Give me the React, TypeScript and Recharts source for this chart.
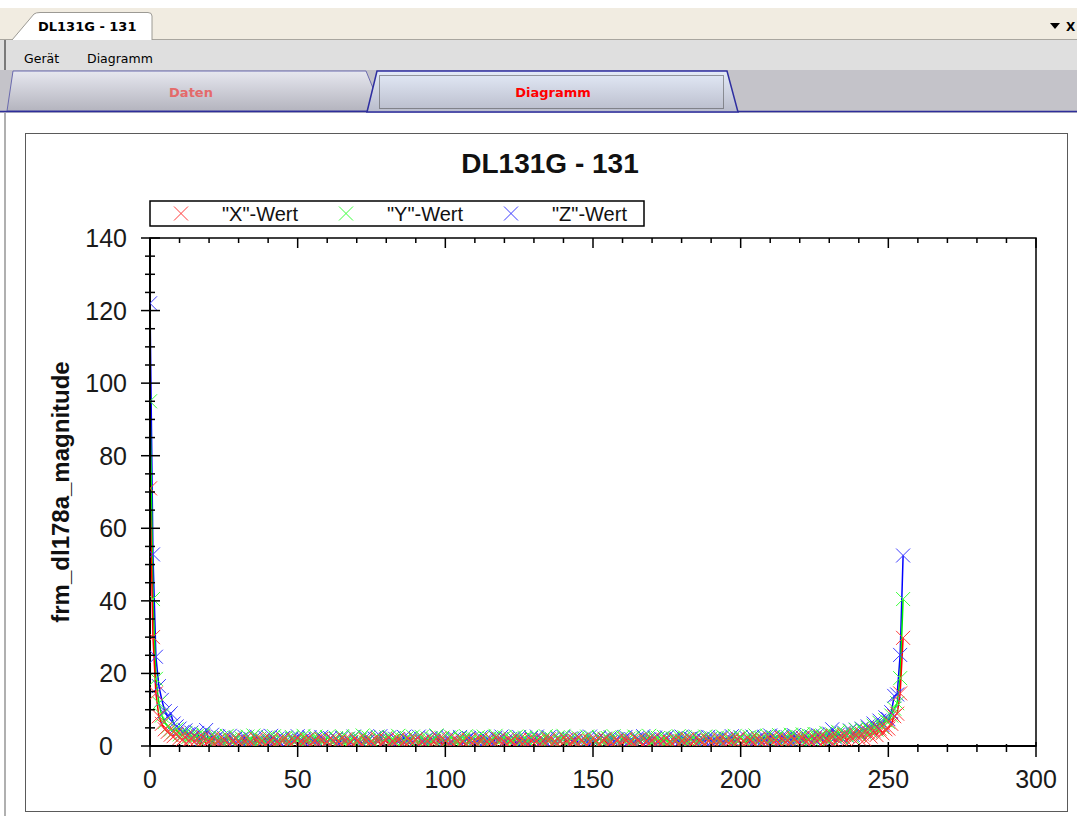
import React from "react";
import {
  LineChart,
  Line,
  XAxis,
  YAxis,
  ReferenceArea,
} from "recharts";

// FFT magnitudes, one value per sample index 0..255
const xWert = [
  71, 30, 14.5, 8.2, 6.1, 4.6, 3.9, 3.1, 2.7, 3.4, 2.2, 1.8, 2.5, 1.4, 1.9, 1.2,
  1.9, 0.3, 2.4, 0.6, 1.2, 2.0, 0.2, 1.5, 0.4, 1.8, 0.9, 0.2, 1.6, 0.5, 1.3, 0.1,
  1.7, 0.4, 1.1, 0.2, 1.9, 0.7, 1.4, 0.3, 1.0, 1.6, 0.2, 1.2, 0.6, 1.8, 0.3, 1.1,
  0.5, 1.5, 0.2, 1.3, 0.8, 1.7, 0.1, 1.0, 1.4, 0.4, 1.9, 0.6, 1.2, 0.2, 1.6, 0.7,
  1.3, 0.3, 1.8, 0.5, 1.1, 0.2, 1.5, 0.9, 0.3, 1.7, 0.6, 1.2, 0.2, 2.0, 0.4, 1.0,
  1.6, 0.2, 1.3, 0.7, 1.9, 0.4, 1.0, 0.3, 1.5, 0.8, 1.8, 0.2, 1.1, 0.6, 1.4, 0.3,
  1.2, 0.5, 2.1, 0.2, 1.4, 0.7, 1.0, 0.3, 1.7, 0.5, 1.3, 0.1, 1.6, 0.8, 1.1, 0.4,
  1.8, 0.3, 1.2, 0.6, 1.5, 0.2, 1.9, 0.7, 1.0, 0.4, 1.4, 0.9, 0.2, 1.7, 0.5, 1.2,
  0.3, 1.6, 0.8, 1.3, 0.2, 1.5, 0.6, 1.9, 0.4, 1.1, 0.7, 1.4, 0.2, 1.8, 0.5, 1.0,
  1.4, 0.3, 1.7, 0.9, 0.2, 1.3, 0.6, 1.6, 0.4, 1.2, 1.8, 0.3, 1.0, 0.5, 1.5, 0.8,
  0.4, 1.9, 0.7, 1.3, 0.2, 1.6, 1.0, 0.3, 1.4, 0.6, 1.8, 0.4, 1.1, 0.7, 1.5, 0.2,
  1.2, 0.6, 1.7, 0.3, 1.4, 0.8, 1.9, 0.2, 1.3, 0.5, 1.6, 0.9, 0.3, 1.5, 0.7, 1.1,
  0.4, 1.8, 0.6, 1.3, 0.9, 1.6, 0.3, 2.0, 0.7, 1.2, 0.5, 1.7, 1.0, 0.4, 1.9, 0.8,
  1.4, 0.5, 2.1, 0.9, 1.6, 0.6, 2.2, 1.0, 1.5, 0.7, 2.0, 1.2, 0.6, 2.3, 1.1, 1.7,
  0.8, 2.2, 1.3, 2.6, 0.9, 2.0, 1.5, 2.8, 1.1, 2.4, 1.7, 3.0, 1.4, 2.7, 2.0, 3.2,
  2.1, 3.4, 1.8, 3.9, 2.6, 4.3, 3.0, 4.8, 3.5, 4.6, 4.8, 6.1, 8.2, 8.9, 14.5, 29.8,
];

const yWert = [
  95, 40.5, 18.5, 11.8, 8.4, 6.6, 5.3, 4.5, 3.9, 4.6, 3.2, 2.9, 3.6, 2.5, 2.8, 2.2,
  2.9, 1.1, 3.3, 1.5, 2.4, 0.8, 2.7, 1.3, 2.2, 0.7, 2.8, 1.6, 0.9, 2.5, 1.2, 2.1,
  0.8, 2.6, 1.4, 2.9, 0.6, 2.0, 1.7, 0.9, 2.4, 1.1, 2.7, 0.5, 1.9, 1.3, 2.3, 0.7,
  2.5, 1.0, 2.1, 0.6, 2.8, 1.4, 1.9, 0.8, 2.6, 1.2, 2.0, 0.5, 2.4, 1.5, 0.9, 2.2,
  1.3, 2.7, 0.7, 2.0, 1.6, 2.5, 0.6, 1.8, 2.9, 1.0, 2.3, 1.4, 0.8, 2.6, 1.7, 1.1,
  2.4, 0.9, 2.0, 1.3, 2.8, 0.7, 1.6, 2.2, 1.1, 2.6, 1.5, 0.8, 2.5, 1.2, 2.1, 0.6,
  1.9, 2.9, 1.0, 2.3, 0.7, 1.8, 2.5, 1.3, 0.9, 2.2, 1.6, 2.7, 0.8, 2.0, 1.4, 2.4,
  1.1, 2.6, 0.6, 2.1, 1.5, 2.8, 1.0, 1.9, 2.4, 0.7, 2.0, 1.3, 2.6, 0.9, 1.7, 2.3,
  1.2, 2.5, 0.8, 2.2, 1.6, 0.6, 2.7, 1.4, 2.0, 0.9, 2.4, 1.1, 2.8, 0.7, 1.8, 2.1,
  1.0, 2.3, 1.5, 0.7, 2.6, 1.3, 2.1, 0.9, 2.5, 1.6, 0.8, 2.2, 1.2, 2.7, 1.4, 0.6,
  2.4, 1.1, 2.0, 0.8, 2.6, 1.5, 0.9, 2.3, 1.2, 2.8, 0.7, 1.9, 2.2, 1.0, 2.5, 1.3,
  0.8, 2.1, 1.6, 2.7, 1.0, 2.4, 0.7, 1.8, 2.5, 1.2, 2.0, 0.9, 2.6, 1.4, 2.2, 1.1,
  2.3, 1.0, 2.6, 1.5, 2.1, 0.9, 2.8, 1.3, 2.4, 1.7, 1.0, 2.5, 1.4, 2.9, 1.2, 2.2,
  1.6, 2.8, 1.2, 2.5, 1.9, 3.0, 1.3, 2.4, 1.8, 3.1, 1.5, 2.6, 2.0, 3.2, 1.4, 2.9,
  1.9, 3.3, 2.1, 2.8, 2.4, 3.6, 1.8, 3.2, 2.6, 3.9, 2.2, 3.4, 2.9, 4.1, 2.5, 4.4,
  3.1, 4.6, 3.6, 5.0, 4.0, 5.6, 4.5, 6.4, 5.2, 7.1, 6.6, 8.4, 10.3, 11.8, 18.7, 40.5,
];

const zWert = [
  122, 52.8, 24.6, 16.5, 12.7, 9.6, 8.1, 9.0, 6.2, 5.4, 4.8, 3.9, 4.3, 3.3, 3.7, 2.8,
  3.6, 1.5, 2.9, 4.4, 1.2, 3.1, 1.8, 2.6, 0.9, 2.3, 1.4, 2.8, 1.0, 2.1, 1.7, 0.8,
  2.5, 1.2, 2.0, 0.7, 2.6, 1.5, 1.0, 2.3, 0.6, 2.8, 1.3, 1.9, 0.8, 2.2, 1.4, 0.5,
  2.1, 1.1, 2.7, 0.9, 1.8, 0.4, 2.4, 1.3, 2.0, 0.7, 2.5, 1.6, 0.9, 2.2, 1.2, 1.9,
  0.6, 2.3, 1.4, 2.0, 0.8, 2.6, 1.1, 1.7, 0.5, 2.4, 1.5, 0.9, 2.1, 1.3, 2.7, 0.7,
  1.8, 2.4, 0.9, 2.0, 1.2, 0.6, 2.5, 1.4, 2.1, 0.8, 1.9, 2.6, 1.1, 1.6, 0.7, 2.2,
  1.3, 2.7, 0.8, 1.9, 1.5, 2.3, 0.6, 2.0, 1.1, 2.5, 0.9, 1.7, 2.2, 0.7, 1.8, 1.2,
  2.4, 0.9, 2.0, 1.4, 0.6, 2.3, 1.6, 2.6, 0.8, 1.9, 1.2, 2.1, 0.5, 2.5, 1.3, 1.8,
  0.9, 2.2, 1.5, 2.6, 0.7, 1.8, 1.1, 2.4, 1.6, 0.8, 2.0, 1.3, 2.5, 0.6, 1.9, 1.4,
  2.3, 0.7, 1.7, 2.1, 1.0, 2.6, 1.4, 0.8, 2.2, 1.5, 2.0, 0.9, 2.4, 1.2, 1.8, 0.6,
  1.6, 2.5, 1.1, 1.9, 0.7, 2.2, 1.3, 2.7, 0.9, 1.8, 1.5, 2.3, 0.8, 2.0, 1.2, 2.4,
  0.9, 1.7, 2.2, 1.0, 2.6, 1.4, 0.8, 2.1, 1.6, 2.4, 0.7, 1.9, 1.3, 2.5, 1.1, 2.0,
  1.5, 2.3, 0.9, 2.0, 1.7, 2.7, 1.1, 1.9, 2.4, 1.3, 2.2, 0.8, 2.6, 1.6, 2.1, 1.2,
  2.5, 1.4, 2.9, 1.7, 2.2, 1.0, 2.7, 1.9, 2.4, 1.5, 3.0, 1.8, 2.3, 1.3, 2.8, 2.0,
  2.6, 1.8, 3.1, 2.2, 2.7, 1.9, 3.4, 4.6, 2.3, 3.2, 2.5, 3.7, 2.8, 4.3, 3.0, 4.5,
  3.6, 4.8, 4.1, 5.4, 4.5, 6.2, 5.0, 7.0, 5.8, 7.9, 7.4, 9.3, 13.8, 14.2, 25.1, 52.5,
];

const seriesNames = ['"X"-Wert', '"Y"-Wert', '"Z"-Wert'];
const seriesColors = ["#ff0000", "#00ee00", "#0000ff"];
const markerColors = ["#ff3c3c", "#3cff3c", "#3c3cff"];

const xTicks = [0, 10, 20, 30, 40, 50, 60, 70, 80, 90, 100, 110, 120, 130, 140, 150,
  160, 170, 180, 190, 200, 210, 220, 230, 240, 250, 260, 270, 280, 290, 300];
const yTicks = [0, 5, 10, 15, 20, 25, 30, 35, 40, 45, 50, 55, 60, 65, 70, 75, 80, 85,
  90, 95, 100, 105, 110, 115, 120, 125, 130, 135, 140];

const data = xWert.map((v, i) => ({ idx: i, X: v, Y: yWert[i], Z: zWert[i] }));

const PLOT_H = 508;
const CHART_FONT = "'Liberation Sans', Arial, sans-serif";
const UI_FONT = "'DejaVu Sans', Tahoma, sans-serif";

const makeCross = (color: string) => (props: any) => {
  const { cx, cy, index } = props;
  if (cx == null || cy == null) return <g key={index} />;
  const s = 7;
  return (
    <path
      key={index}
      d={`M${cx - s},${cy - s}L${cx + s},${cy + s}M${cx + s},${cy - s}L${cx - s},${cy + s}`}
      stroke={color}
      strokeWidth={1}
      fill="none"
    />
  );
};

const XTick = (props: any) => {
  const { x, y, payload } = props;
  const v = payload.value;
  const major = v % 50 === 0;
  const top = y - PLOT_H;
  return (
    <g>
      <line x1={x} x2={x} y1={y - (major ? 4 : 2)} y2={y + (major ? 11 : 6)} stroke="#000" strokeWidth={1.5} />
      <line x1={x} x2={x} y1={top} y2={top + (major ? 10 : 5)} stroke="#000" strokeWidth={1.5} />
      {major && (
        <text x={x} y={y + 42} textAnchor="middle" fontSize={25} fill="#1a1a1a" fontFamily={CHART_FONT}>
          {v}
        </text>
      )}
    </g>
  );
};

const YTick = (props: any) => {
  const { x, y, payload } = props;
  const v = payload.value;
  const major = v % 20 === 0;
  return (
    <g>
      <line x1={x - (major ? 9 : 5)} x2={x + (major ? 10 : 5)} y1={y} y2={y} stroke="#000" strokeWidth={1.5} />
      {major && (
        <text x={v === 0 ? x - 37 : x - 23} y={y + 9} textAnchor="end" fontSize={25} fill="#1a1a1a" fontFamily={CHART_FONT}>
          {v}
        </text>
      )}
    </g>
  );
};

const WindowChrome = () => (
  <svg width={1077} height={113} style={{ position: "absolute", left: 0, top: 0 }}>
    <defs>
      <linearGradient id="tabGrad" x1="0" y1="0" x2="0" y2="1">
        <stop offset="0%" stopColor="#e6e7ef" />
        <stop offset="100%" stopColor="#b4b4be" />
      </linearGradient>
      <linearGradient id="selGrad" x1="0" y1="0" x2="0" y2="1">
        <stop offset="0%" stopColor="#e4ebf8" />
        <stop offset="100%" stopColor="#b9bccb" />
      </linearGradient>
    </defs>
    <rect x={0} y={0} width={1077} height={8} fill="#ffffff" />
    <rect x={0} y={8} width={1077} height={32} fill="#f1ece1" />
    <line x1={0} x2={1077} y1={39.5} y2={39.5} stroke="#a9a69f" />
    <path d="M12,40 L34,14 Q36,12.5 40,12.5 L148,12.5 Q152,12.5 152,16 L152,40" fill="#ffffff" stroke="#9c9a94" />
    <text x={38} y={31} fontFamily={UI_FONT} fontWeight="bold" fontSize={13} fill="#000">
      DL131G - 131
    </text>
    <path d="M1050,23 L1060,23 L1055,29 Z" fill="#000" />
    <text x={1066} y={31} fontFamily={UI_FONT} fontWeight="bold" fontSize={12} fill="#000">
      X
    </text>

    <rect x={0} y={40} width={1077} height={30} fill="#dfdfdf" />
    <rect x={4} y={40} width={2} height={30} fill="#7a7a7a" />
    <text x={24} y={63} fontFamily={UI_FONT} fontSize={12.5} fill="#000">Gerät</text>
    <text x={87} y={63} fontFamily={UI_FONT} fontSize={12.5} fill="#000">Diagramm</text>

    <rect x={0} y={70} width={1077} height={43} fill="#c4c3c9" />
    <path d="M7,111 L13,71 L366,71 L373,88 L368,111 Z" fill="url(#tabGrad)" stroke="#6a6aae" strokeWidth={1} />
    <path d="M367,112 L377,71 L727,71 L738,112 Z" fill="url(#selGrad)" stroke="#2e2ea0" strokeWidth={1.5} />
    <rect x={379.5} y={75.5} width={344} height={33} fill="none" stroke="#444" strokeDasharray="1,1" />
    <line x1={0} x2={367} y1={111.5} y2={111.5} stroke="#2e2e9a" strokeWidth={1.5} />
    <line x1={738} x2={1077} y1={111.5} y2={111.5} stroke="#2e2e9a" strokeWidth={1.5} />
    <text x={191} y={97} textAnchor="middle" fontFamily={UI_FONT} fontWeight="bold" fontSize={13} fill="#e46a6a">
      Daten
    </text>
    <text x={553} y={97} textAnchor="middle" fontFamily={UI_FONT} fontWeight="bold" fontSize={13} fill="#ff0000">
      Diagramm
    </text>
  </svg>
);

const LegendBox = () => (
  <svg width={496} height={27} style={{ position: "absolute", left: 149, top: 200 }}>
    <rect x={1} y={1} width={494} height={25} fill="#fff" stroke="#000" strokeWidth={1.5} />
    {seriesNames.map((name, i) => {
      const cx = 32 + i * 165;
      const cy = 13.5;
      return (
        <g key={name}>
          <path
            d={`M${cx - 7},${cy - 7}L${cx + 7},${cy + 7}M${cx + 7},${cy - 7}L${cx - 7},${cy + 7}`}
            stroke={markerColors[i]}
            strokeWidth={1}
          />
          <text x={73 + i * 165} y={20.5} fontFamily={CHART_FONT} fontSize={20} fill="#111">
            {name}
          </text>
        </g>
      );
    })}
  </svg>
);

export default function App() {
  return (
    <div
      style={{
        position: "absolute",
        left: 0,
        top: 0,
        width: 1077,
        height: 816,
        background: "#fff",
        overflow: "hidden",
      }}
    >
      <WindowChrome />
      <div style={{ position: "absolute", left: 4, top: 113, width: 2, height: 703, background: "#b0b0b0" }} />

      {/* Rahmen um das Diagramm */}
      <div
        style={{
          position: "absolute",
          left: 25,
          top: 133,
          width: 1041,
          height: 677,
          border: "1.5px solid #5a5a5a",
        }}
      />

      <div
        style={{
          position: "absolute",
          left: 0,
          width: 1100,
          top: 148,
          textAlign: "center",
          fontFamily: CHART_FONT,
          fontWeight: "bold",
          fontSize: 28,
          color: "#111",
        }}
      >
        DL131G - 131
      </div>

      <LegendBox />

      <div
        style={{
          position: "absolute",
          left: 61,
          top: 492,
          transform: "translate(-50%, -50%) rotate(-90deg)",
          whiteSpace: "nowrap",
          fontFamily: CHART_FONT,
          fontWeight: "bold",
          fontSize: 24,
          color: "#111",
        }}
      >
        frm_dl178a_magnitude
      </div>

      <div style={{ position: "absolute", left: 26, top: 134 }}>
        <LineChart
          width={1041}
          height={677}
          data={data}
          margin={{ top: 104, right: 31, bottom: 25, left: 64 }}
        >
          <ReferenceArea
            x1={0}
            x2={300}
            y1={0}
            y2={140}
            fill="none"
            stroke="#000"
            strokeWidth={1.5}
            ifOverflow="visible"
          />
          <XAxis
            type="number"
            dataKey="idx"
            domain={[0, 300]}
            ticks={xTicks}
            interval={0}
            allowDataOverflow
            tickSize={0}
            tickMargin={0}
            tickLine={false}
            tick={<XTick />}
            axisLine={{ stroke: "#000", strokeWidth: 2 }}
            height={40}
          />
          <YAxis
            type="number"
            domain={[0, 140]}
            ticks={yTicks}
            interval={0}
            allowDataOverflow
            tickSize={0}
            tickMargin={0}
            tickLine={false}
            tick={<YTick />}
            axisLine={{ stroke: "#000", strokeWidth: 2 }}
            width={60}
          />
          <Line
            type="linear"
            dataKey="Z"
            stroke={seriesColors[2]}
            strokeWidth={1.5}
            dot={makeCross(markerColors[2])}
            activeDot={false}
            isAnimationActive={false}
          />
          <Line
            type="linear"
            dataKey="Y"
            stroke={seriesColors[1]}
            strokeWidth={1.5}
            dot={makeCross(markerColors[1])}
            activeDot={false}
            isAnimationActive={false}
          />
          <Line
            type="linear"
            dataKey="X"
            stroke={seriesColors[0]}
            strokeWidth={1.5}
            dot={makeCross(markerColors[0])}
            activeDot={false}
            isAnimationActive={false}
          />
        </LineChart>
      </div>
    </div>
  );
}
